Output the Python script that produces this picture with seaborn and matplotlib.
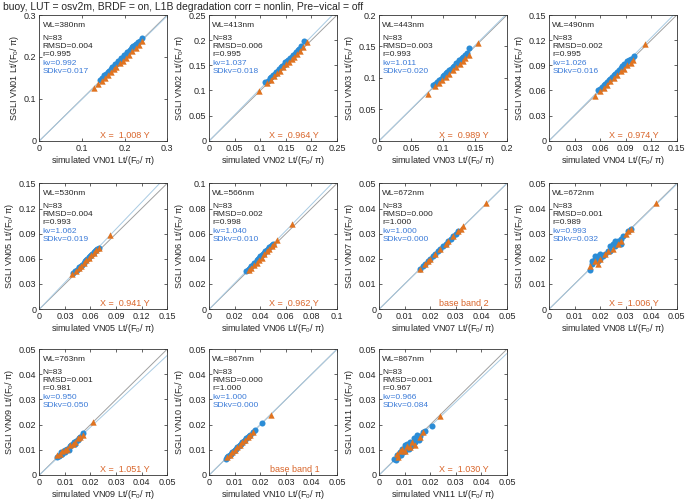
import numpy as np
import pandas as pd
import matplotlib
matplotlib.use('Agg')
import matplotlib.pyplot as plt
import seaborn as sns

# panel info
bands = ['VN01', 'VN02', 'VN03', 'VN04', 'VN05', 'VN06', 'VN07', 'VN08', 'VN09', 'VN10', 'VN11']
wavelengths = [380, 413, 443, 490, 530, 566, 672, 672, 763, 867, 867]
rmsd = ['0.004', '0.006', '0.003', '0.002', '0.004', '0.002', '0.000', '0.001', '0.001', '0.000', '0.001']
corr = ['0.995', '0.995', '0.993', '0.995', '0.993', '0.998', '1.000', '0.989', '0.981', '1.000', '0.967']
kv = [0.992, 1.037, 1.011, 1.026, 1.062, 1.040, 1.000, 0.993, 0.950, 1.000, 0.966]
sdkv = ['0.017', '0.018', '0.020', '0.016', '0.019', '0.010', '0.000', '0.032', '0.050', '0.000', '0.084']
corner_text = ['X =  1.008 Y', 'X =  0.964 Y', 'X =  0.989 Y', 'X =  0.974 Y', 'X =  0.941 Y',
               'X =  0.962 Y', 'base band 2', 'X =  1.006 Y', 'X =  1.051 Y', 'base band 1', 'X =  1.030 Y']
axis_max = [0.3, 0.25, 0.2, 0.15, 0.15, 0.1, 0.05, 0.05, 0.05, 0.05, 0.05]
tick_step = [0.1, 0.05, 0.05, 0.03, 0.03, 0.02, 0.01, 0.01, 0.01, 0.01, 0.01]

# blue circles: simulated (x) vs SGLI (y)
blue_x = {
    'VN01': [0.142, 0.148, 0.152, 0.156, 0.160, 0.163, 0.167, 0.170, 0.174, 0.178, 0.181, 0.185, 0.188, 0.192,
             0.195, 0.199, 0.202, 0.205, 0.208, 0.212, 0.215, 0.218, 0.221, 0.225, 0.228, 0.232, 0.236, 0.240],
    'VN02': [0.110, 0.114, 0.118, 0.121, 0.125, 0.128, 0.131, 0.134, 0.137, 0.140, 0.143, 0.146, 0.149, 0.152,
             0.155, 0.158, 0.161, 0.164, 0.167, 0.170, 0.173, 0.176, 0.180, 0.186],
    'VN03': [0.085, 0.088, 0.091, 0.094, 0.097, 0.100, 0.102, 0.105, 0.107, 0.110, 0.112, 0.115, 0.117, 0.120,
             0.122, 0.125, 0.127, 0.130, 0.132, 0.135, 0.138, 0.141],
    'VN04': [0.057, 0.060, 0.062, 0.064, 0.066, 0.068, 0.070, 0.072, 0.074, 0.076, 0.078, 0.080, 0.082, 0.084,
             0.086, 0.088, 0.090, 0.092, 0.094, 0.096, 0.098, 0.100],
    'VN05': [0.040, 0.042, 0.044, 0.046, 0.047, 0.049, 0.050, 0.052, 0.053, 0.055, 0.056, 0.058, 0.059, 0.061,
             0.062, 0.064, 0.065, 0.067, 0.068, 0.070],
    'VN06': [0.029, 0.030, 0.031, 0.032, 0.033, 0.034, 0.035, 0.036, 0.037, 0.038, 0.039, 0.040, 0.041, 0.042,
             0.043, 0.044, 0.045, 0.046, 0.047, 0.048, 0.049, 0.050],
    'VN07': [0.016, 0.017, 0.018, 0.019, 0.020, 0.021, 0.022, 0.023, 0.024, 0.025, 0.026, 0.027, 0.028, 0.029,
             0.030, 0.031],
    'VN08': [0.016, 0.017, 0.017, 0.018, 0.018, 0.019, 0.019, 0.020, 0.020, 0.021, 0.022, 0.023, 0.024, 0.024,
             0.025, 0.026, 0.026, 0.027, 0.028, 0.028, 0.029, 0.031, 0.032],
    'VN09': [0.0070, 0.0075, 0.0080, 0.0085, 0.0090, 0.0095, 0.0100, 0.0100, 0.0110, 0.0115, 0.0120, 0.0125,
             0.0130, 0.0135, 0.0140, 0.0145, 0.0150, 0.0155, 0.0160, 0.0170],
    'VN10': [0.0065, 0.0070, 0.0075, 0.0080, 0.0085, 0.0090, 0.0095, 0.0100, 0.0105, 0.0110, 0.0115, 0.0120,
             0.0125, 0.0130, 0.0135, 0.0140, 0.0145, 0.0150, 0.0155, 0.0160, 0.0170, 0.0180, 0.0205],
    'VN11': [0.0060, 0.0065, 0.0070, 0.0075, 0.0080, 0.0085, 0.0090, 0.0095, 0.0100, 0.0100, 0.0105, 0.0110,
             0.0115, 0.0120, 0.0125, 0.0130, 0.0135, 0.0140, 0.0150, 0.0155, 0.0160, 0.0170, 0.0180, 0.0205],
}
blue_y = {
    'VN01': [0.146, 0.150, 0.156, 0.159, 0.165, 0.166, 0.171, 0.175, 0.177, 0.183, 0.184, 0.190, 0.191, 0.197,
             0.198, 0.204, 0.205, 0.211, 0.212, 0.217, 0.219, 0.224, 0.225, 0.229, 0.232, 0.236, 0.239, 0.245],
    'VN02': [0.116, 0.119, 0.124, 0.126, 0.131, 0.133, 0.137, 0.139, 0.143, 0.146, 0.149, 0.151, 0.156, 0.158,
             0.161, 0.165, 0.167, 0.171, 0.173, 0.177, 0.180, 0.183, 0.188, 0.198],
    'VN03': [0.088, 0.091, 0.093, 0.097, 0.099, 0.103, 0.104, 0.108, 0.109, 0.113, 0.114, 0.118, 0.119, 0.123,
             0.124, 0.128, 0.129, 0.132, 0.134, 0.137, 0.140, 0.148],
    'VN04': [0.060, 0.062, 0.064, 0.066, 0.068, 0.070, 0.072, 0.074, 0.076, 0.078, 0.080, 0.082, 0.084, 0.087,
             0.089, 0.091, 0.092, 0.095, 0.096, 0.097, 0.098, 0.101],
    'VN05': [0.043, 0.045, 0.047, 0.049, 0.050, 0.052, 0.053, 0.055, 0.057, 0.058, 0.060, 0.062, 0.063, 0.065,
             0.066, 0.068, 0.069, 0.071, 0.072, 0.073],
    'VN06': [0.030, 0.031, 0.032, 0.033, 0.034, 0.035, 0.037, 0.037, 0.039, 0.040, 0.041, 0.042, 0.043, 0.044,
             0.045, 0.046, 0.047, 0.048, 0.049, 0.050, 0.051, 0.052],
    'VN07': [0.016, 0.017, 0.018, 0.019, 0.020, 0.021, 0.022, 0.023, 0.024, 0.025, 0.026, 0.027, 0.028, 0.029,
             0.030, 0.031],
    'VN08': [0.0155, 0.018, 0.019, 0.020, 0.021, 0.019, 0.021, 0.020, 0.022, 0.021, 0.022, 0.023, 0.025, 0.023,
             0.026, 0.027, 0.025, 0.027, 0.026, 0.028, 0.029, 0.031, 0.032],
    'VN09': [0.0070, 0.0075, 0.0080, 0.0090, 0.0085, 0.0095, 0.0100, 0.0090, 0.0105, 0.0100, 0.0115, 0.0120,
             0.0125, 0.0130, 0.0125, 0.0135, 0.0140, 0.0145, 0.0150, 0.0165],
    'VN10': [0.0065, 0.0070, 0.0075, 0.0080, 0.0085, 0.0090, 0.0095, 0.0100, 0.0105, 0.0110, 0.0115, 0.0120,
             0.0125, 0.0130, 0.0135, 0.0140, 0.0145, 0.0150, 0.0155, 0.0160, 0.0170, 0.0180, 0.0205],
    'VN11': [0.0065, 0.0060, 0.0080, 0.0070, 0.0090, 0.0080, 0.0105, 0.0090, 0.0120, 0.0095, 0.0110, 0.0125,
             0.0105, 0.0130, 0.0115, 0.0120, 0.0145, 0.0130, 0.0160, 0.0140, 0.0155, 0.0170, 0.0175, 0.0195],
}

# orange triangles
tri_x = {
    'VN01': [0.128, 0.138, 0.146, 0.153, 0.160, 0.168, 0.175, 0.181, 0.189, 0.196, 0.203, 0.210, 0.218, 0.226,
             0.234, 0.242],
    'VN02': [0.097, 0.113, 0.120, 0.126, 0.132, 0.138, 0.144, 0.150, 0.156, 0.161, 0.166, 0.171, 0.177, 0.183, 0.191],
    'VN03': [0.076, 0.087, 0.093, 0.099, 0.104, 0.110, 0.116, 0.121, 0.126, 0.131, 0.135, 0.140, 0.155],
    'VN04': [0.054, 0.060, 0.064, 0.068, 0.072, 0.076, 0.080, 0.084, 0.088, 0.092, 0.096, 0.099, 0.113],
    'VN05': [0.038, 0.043, 0.046, 0.049, 0.052, 0.055, 0.058, 0.061, 0.064, 0.067, 0.070, 0.083],
    'VN06': [0.031, 0.033, 0.035, 0.037, 0.039, 0.041, 0.043, 0.045, 0.047, 0.049, 0.051, 0.053, 0.065],
    'VN07': [0.016, 0.018, 0.019, 0.020, 0.022, 0.024, 0.026, 0.027, 0.029, 0.031, 0.032, 0.033, 0.042],
    'VN08': [0.016, 0.018, 0.019, 0.020, 0.022, 0.023, 0.025, 0.027, 0.028, 0.030, 0.031, 0.032, 0.042],
    'VN09': [0.007, 0.008, 0.009, 0.010, 0.011, 0.012, 0.013, 0.014, 0.015, 0.016, 0.017, 0.021],
    'VN10': [0.007, 0.008, 0.009, 0.010, 0.011, 0.012, 0.013, 0.014, 0.015, 0.016, 0.017, 0.024],
    'VN11': [0.007, 0.0075, 0.008, 0.009, 0.010, 0.011, 0.012, 0.013, 0.014, 0.016, 0.017, 0.024],
}
tri_y = {
    'VN01': [0.126, 0.136, 0.143, 0.149, 0.157, 0.164, 0.171, 0.176, 0.185, 0.191, 0.198, 0.205, 0.213, 0.221,
             0.228, 0.238],
    'VN02': [0.099, 0.115, 0.121, 0.128, 0.134, 0.139, 0.146, 0.152, 0.157, 0.163, 0.167, 0.173, 0.179, 0.186, 0.196],
    'VN03': [0.075, 0.087, 0.092, 0.097, 0.102, 0.107, 0.113, 0.118, 0.122, 0.127, 0.131, 0.136, 0.156],
    'VN04': [0.054, 0.059, 0.063, 0.067, 0.071, 0.075, 0.079, 0.083, 0.086, 0.090, 0.093, 0.096, 0.116],
    'VN05': [0.042, 0.046, 0.049, 0.052, 0.055, 0.058, 0.061, 0.064, 0.067, 0.070, 0.073, 0.089],
    'VN06': [0.031, 0.033, 0.035, 0.037, 0.039, 0.041, 0.044, 0.046, 0.048, 0.050, 0.052, 0.055, 0.068],
    'VN07': [0.016, 0.018, 0.019, 0.020, 0.022, 0.024, 0.026, 0.027, 0.029, 0.031, 0.032, 0.033, 0.042],
    'VN08': [0.017, 0.019, 0.018, 0.020, 0.022, 0.023, 0.024, 0.026, 0.027, 0.030, 0.031, 0.032, 0.042],
    'VN09': [0.008, 0.0085, 0.0095, 0.0100, 0.0105, 0.0120, 0.0125, 0.0130, 0.0145, 0.0150, 0.0160, 0.0210],
    'VN10': [0.007, 0.008, 0.009, 0.010, 0.011, 0.012, 0.013, 0.014, 0.015, 0.016, 0.017, 0.024],
    'VN11': [0.0085, 0.007, 0.0095, 0.0105, 0.0095, 0.0115, 0.0110, 0.0130, 0.0120, 0.0150, 0.0170, 0.0235],
}

title = 'buoy, LUT = osv2m, BRDF = on, L1B degradation corr = nonlin, Pre\u2212vical = off'

sns.set_style('ticks')
plt.rcParams['font.family'] = ['Liberation Sans', 'DejaVu Sans']
plt.rcParams['mathtext.fontset'] = 'custom'
plt.rcParams['mathtext.rm'] = 'Liberation Sans'
plt.rcParams['mathtext.it'] = 'Liberation Sans'

c_blue = '#2b8cd6'
c_orange = '#e07320'
c_txt_blue = '#3a7ad8'
c_txt_orange = '#d9652a'
c_dark = '#262626'

fig = plt.figure(figsize=(6.85, 5.01), dpi=100)
fig.text(0.004, 0.997, title, fontsize=7.5, va='top', ha='left', color=c_dark)

lefts = [0.0575, 0.3055, 0.5535, 0.8015]
bottoms = [0.719, 0.383, 0.052]
w, h = 0.1865, 0.251

for i, b in enumerate(bands):
    r, c = divmod(i, 4)
    ax = fig.add_axes([lefts[c], bottoms[r], w, h])
    m = axis_max[i]
    df_b = pd.DataFrame({'sim': blue_x[b], 'sgli': blue_y[b]})
    df_t = pd.DataFrame({'sim': tri_x[b], 'sgli': tri_y[b]})
    ax.axline((0, 0), slope=1, color='#a0a0a0', lw=0.7, zorder=1)
    ax.axline((0, 0), slope=kv[i], color='#a9cbe3', lw=0.7, zorder=1)
    sns.scatterplot(data=df_b, x='sim', y='sgli', ax=ax, marker='o', s=19, color=c_blue,
                    edgecolor=c_blue, linewidth=0, zorder=3)
    sns.scatterplot(data=df_t, x='sim', y='sgli', ax=ax, marker='^', s=21, color=c_orange,
                    edgecolor=c_orange, linewidth=0, zorder=4)
    ax.set_xlim(0, m)
    ax.set_ylim(0, m)
    ticks = np.arange(0, m + tick_step[i] / 2, tick_step[i])
    ax.set_xticks(ticks)
    ax.set_yticks(ticks)
    labs = ['0'] + [('%.2f' % t).rstrip('0').rstrip('.') for t in ticks[1:]]
    ax.set_xticklabels(labs)
    ax.set_yticklabels(labs)
    ax.tick_params(direction='in', length=2.5, width=0.5, labelsize=6.5, colors=c_dark,
                   top=True, right=True, pad=2)
    for sp in ax.spines.values():
        sp.set_linewidth(0.6)
        sp.set_color('#333333')
    ax.set_xlabel('simulated %s Lt/(F$_0$/ \u03c0)' % b, fontsize=6.5, color=c_dark, labelpad=1)
    ax.set_ylabel('SGLI %s Lt/(F$_0$/ \u03c0)' % b, fontsize=6.5, color=c_dark, labelpad=2)

    tx = 0.025
    ax.text(tx, 0.92, 'WL=%dnm' % wavelengths[i], transform=ax.transAxes, fontsize=6, va='center', color=c_dark)
    ax.text(tx, 0.815, 'N=83', transform=ax.transAxes, fontsize=6, va='center', color=c_dark)
    ax.text(tx, 0.75, 'RMSD=' + rmsd[i], transform=ax.transAxes, fontsize=6, va='center', color=c_dark)
    ax.text(tx, 0.685, 'r=' + corr[i], transform=ax.transAxes, fontsize=6, va='center', color=c_dark)
    ax.text(tx, 0.618, 'kv=%.3f' % kv[i], transform=ax.transAxes, fontsize=6, va='center', color=c_txt_blue)
    ax.text(tx, 0.552, 'SDkv=' + sdkv[i], transform=ax.transAxes, fontsize=6, va='center', color=c_txt_blue)
    ax.text(0.86, 0.045, corner_text[i], transform=ax.transAxes, fontsize=6.5, va='center', ha='right',
            color=c_txt_orange)

fig.savefig('out.png', dpi=100)
